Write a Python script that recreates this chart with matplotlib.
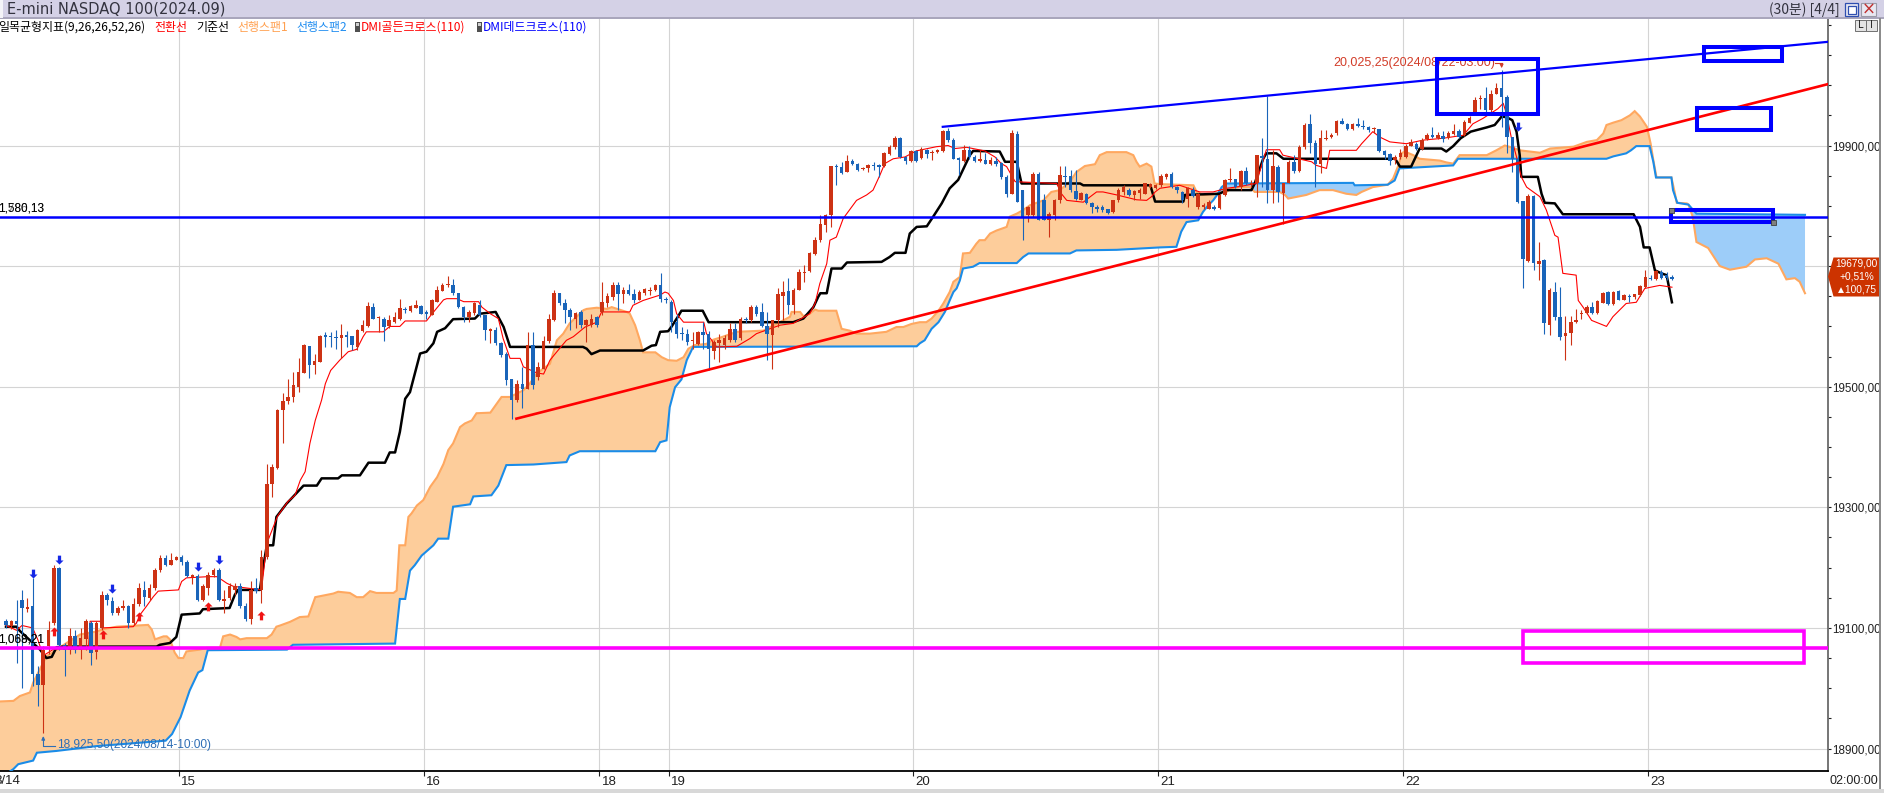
import numpy as np
import matplotlib
matplotlib.use("Agg")
import matplotlib.pyplot as plt
from matplotlib.patches import Rectangle, Polygon
from matplotlib.path import Path
from matplotlib.ticker import FixedLocator, MultipleLocator, FuncFormatter
import matplotlib.transforms as mtrans

plt.rcParams['font.family'] = ['Liberation Sans', 'DejaVu Sans']
KR = ['Noto Sans CJK KR', 'DejaVu Sans']

# ---------------- data (30-minute bars) ----------------
bar_open = [
19111,19103,19111,19147,19132,19136,19023,19006,19070,19108,
19199,19072,19064,19086,19064,19081,19108,19060,19100,19155,
19144,19125,19133,19136,19108,19139,19163,19150,19166,19196,
19216,19205,19213,19217,19210,19185,19186,19147,19166,19188,
19196,19145,19149,19163,19169,19137,19114,19166,19163,19217,
19338,19366,19461,19476,19483,19500,19523,19567,19536,19541,
19585,19584,19582,19580,19585,19584,19566,19592,19600,19632,
19614,19613,19600,19607,19613,19629,19626,19631,19634,19624,
19619,19641,19659,19668,19668,19655,19633,19616,19622,19635,
19619,19593,19594,19572,19555,19512,19478,19505,19497,19569,
19516,19530,19576,19610,19655,19638,19628,19613,19624,19602,
19602,19616,19624,19638,19649,19668,19654,19660,19654,19644,
19655,19659,19660,19668,19646,19641,19607,19589,19588,19576,
19571,19590,19588,19560,19572,19569,19577,19596,19580,19612,
19610,19633,19624,19600,19585,19610,19651,19659,19635,19660,
19688,19692,19720,19743,19768,19784,19866,19865,19856,19874,
19869,19861,19862,19868,19867,19866,19886,19897,19913,19881,
19875,19891,19880,19893,19887,19889,19891,19924,19909,19879,
19875,19892,19881,19875,19876,19870,19875,19871,19848,19820,
19919,19826,19785,19784,19853,19809,19777,19784,19809,19850,
19850,19825,19810,19820,19804,19798,19798,19794,19790,19809,
19823,19826,19818,19821,19820,19831,19830,19834,19847,19853,
19831,19823,19812,19827,19798,19798,19795,19798,19796,19818,
19842,19844,19831,19857,19836,19837,19882,19878,19826,19865,
19821,19838,19873,19858,19897,19935,19904,19870,19910,19914,
19920,19940,19936,19927,19936,19933,19930,19927,19927,19891,
19886,19876,19881,19881,19900,19903,19895,19910,19917,19912,
19915,19912,19919,19924,19917,19938,19956,19977,19978,19959,
19986,19996,19981,19914,19878,19808,19709,19816,19703,19710,
19602,19657,19615,19584,19589,19607,19620,19622,19633,19622,
19639,19657,19637,19658,19644,19651,19648,19652,19665,19681,
19678,19690,19685,19682]
bar_high = [
19114,19113,19147,19163,19150,19183,19037,19070,19111,19205,
19201,19075,19100,19097,19100,19114,19111,19111,19161,19158,
19152,19137,19147,19138,19150,19174,19177,19172,19199,19221,
19221,19224,19219,19221,19212,19190,19190,19172,19193,19199,
19199,19163,19174,19174,19174,19141,19177,19183,19230,19371,
19372,19463,19489,19512,19525,19547,19570,19568,19555,19586,
19591,19591,19594,19604,19593,19584,19595,19611,19641,19638,
19617,19616,19619,19624,19645,19633,19635,19643,19635,19627,
19646,19667,19672,19683,19678,19656,19634,19627,19641,19644,
19619,19598,19599,19574,19558,19512,19511,19533,19591,19591,
19541,19584,19621,19660,19656,19646,19630,19624,19627,19613,
19621,19618,19674,19655,19674,19674,19665,19670,19662,19660,
19663,19665,19671,19688,19649,19643,19621,19599,19596,19591,
19593,19607,19593,19577,19588,19585,19605,19605,19616,19616,
19635,19635,19639,19624,19610,19663,19676,19680,19663,19696,
19701,19723,19748,19784,19787,19866,19870,19873,19884,19878,
19871,19865,19870,19873,19870,19890,19901,19915,19914,19882,
19893,19893,19897,19895,19892,19895,19925,19929,19912,19881,
19901,19899,19884,19892,19887,19881,19881,19873,19851,19925,
19924,19827,19800,19856,19856,19820,19790,19812,19866,19866,
19859,19859,19823,19821,19806,19801,19801,19795,19810,19829,
19834,19830,19826,19830,19838,19838,19836,19852,19855,19856,
19833,19825,19831,19831,19821,19804,19809,19801,19820,19845,
19863,19845,19859,19865,19842,19884,19912,19982,19892,19867,
19838,19876,19884,19901,19937,19953,19909,19925,19925,19920,
19942,19945,19938,19938,19945,19942,19932,19930,19928,19893,
19887,19884,19895,19902,19910,19906,19912,19921,19930,19923,
19924,19924,19936,19927,19942,19949,19981,19984,19997,19992,
20004,20025.25,19984,19914,19884,19808,19820,19818,19740,19712,
19663,19674,19665,19618,19617,19629,19627,19635,19641,19643,
19657,19659,19659,19660,19653,19653,19654,19668,19693,19685,
19693,19693,19690,19685]
bar_low = [
19100,19098,19042,19001,19127,19004,18970,18925.5,19056,19105,
19064,19020,19056,19058,19048,19064,19039,19048,19097,19138,
19122,19122,19130,19100,19105,19136,19136,19147,19163,19193,
19202,19204,19212,19204,19184,19172,19144,19144,19155,19185,
19144,19125,19147,19155,19133,19111,19106,19158,19141,19215,
19317,19364,19406,19472,19474,19491,19522,19514,19521,19541,
19566,19566,19563,19547,19566,19561,19561,19591,19599,19613,
19591,19576,19597,19605,19611,19622,19624,19630,19620,19613,
19619,19641,19659,19666,19652,19630,19608,19608,19619,19616,
19577,19573,19569,19550,19503,19447,19475,19464,19497,19497,
19511,19530,19572,19609,19635,19605,19594,19597,19597,19574,
19599,19599,19619,19632,19643,19627,19638,19652,19638,19643,
19652,19652,19659,19641,19638,19591,19580,19577,19569,19563,
19569,19563,19527,19546,19541,19563,19574,19574,19577,19605,
19607,19618,19599,19544,19530,19599,19610,19621,19621,19660,
19674,19690,19719,19740,19757,19765,19834,19852,19856,19867,
19858,19859,19856,19859,19848,19865,19884,19895,19880,19869,
19873,19873,19878,19880,19876,19887,19890,19906,19877,19851,
19873,19878,19873,19873,19869,19867,19866,19845,19815,19819,
19806,19743,19773,19781,19777,19776,19748,19776,19804,19831,
19823,19809,19809,19803,19788,19790,19790,19786,19788,19806,
19818,19816,19810,19812,19819,19829,19828,19832,19845,19829,
19822,19805,19798,19814,19795,19795,19794,19793,19794,19816,
19840,19829,19827,19834,19831,19815,19831,19804,19804,19806,
19770,19837,19855,19856,19895,19887,19832,19855,19909,19913,
19917,19935,19925,19925,19931,19928,19923,19920,19890,19878,
19867,19870,19878,19880,19899,19892,19892,19909,19912,19910,
19906,19910,19917,19913,19915,19937,19954,19961,19956,19956,
19985,19931,19887,19856,19804,19664,19707,19693,19677,19588,
19585,19610,19577,19544,19569,19605,19613,19621,19620,19621,
19638,19635,19635,19643,19643,19640,19646,19650,19664,19677,
19677,19679,19677,19677]
bar_close = [
19104,19111,19106,19133,19134,19023,19006,19064,19097,19199,
19072,19064,19086,19064,19084,19111,19059,19108,19155,19147,
19125,19133,19136,19108,19139,19166,19152,19166,19196,19216,
19205,19213,19217,19210,19186,19187,19147,19169,19188,19196,
19147,19148,19169,19169,19136,19114,19163,19161,19218,19338,
19367,19462,19476,19483,19502,19524,19569,19536,19543,19584,
19583,19582,19580,19585,19583,19569,19594,19602,19634,19613,
19616,19599,19610,19616,19630,19627,19634,19635,19621,19620,
19643,19660,19668,19671,19655,19633,19616,19624,19638,19619,
19594,19595,19572,19552,19511,19478,19505,19497,19569,19503,
19533,19576,19613,19655,19638,19627,19616,19622,19602,19610,
19613,19603,19640,19650,19668,19654,19660,19654,19644,19657,
19662,19661,19668,19646,19643,19607,19588,19587,19574,19578,
19591,19586,19563,19574,19577,19580,19596,19577,19613,19610,
19633,19621,19600,19588,19610,19654,19657,19635,19661,19690,
19691,19721,19743,19769,19785,19866,19864,19854,19874,19870,
19860,19863,19867,19866,19865,19888,19897,19913,19881,19875,
19891,19875,19895,19886,19888,19892,19924,19909,19878,19876,
19892,19881,19875,19877,19870,19876,19870,19848,19819,19921,
19806,19782,19798,19853,19777,19777,19787,19810,19851,19848,
19826,19812,19821,19805,19798,19795,19793,19788,19809,19826,
19831,19818,19825,19826,19837,19836,19834,19849,19853,19831,
19826,19810,19829,19816,19819,19801,19806,19795,19818,19842,
19844,19831,19857,19837,19838,19884,19880,19826,19866,19823,
19838,19873,19858,19898,19934,19904,19870,19912,19913,19918,
19940,19936,19927,19935,19932,19930,19925,19929,19891,19884,
19875,19881,19887,19900,19906,19895,19909,19917,19914,19917,
19910,19920,19924,19914,19939,19945,19976,19979,19959,19986,
19996,19981,19914,19878,19807,19711,19816,19705,19709,19605,
19660,19615,19582,19589,19607,19611,19622,19632,19622,19642,
19655,19637,19657,19644,19652,19649,19653,19667,19682,19678,
19692,19681,19681,19679]

day_tick_pos = [32.5, 78.5, 111.5, 124.5, 170.5, 216.5, 262.5, 308.5]
day_tick_labels = ['15', '16', '18', '19', '20', '21', '22', '23']
first_day_label = '8/14'
price_ticks = [18900, 19100, 19300, 19500, 19700, 19900]
price_labels_hidden = [19700]   # covered by the current-price box on screen

# Ichimoku lines (bar index, price)
tenkan_idx = [0,1,2,3,5,6,7,9,15.5,15.8,17.7,18,23.9,24.5,25.2,26.4,27.7,28.6,32.4,33,33.9,38,39.6,40.5,41.5,42.7,47.1,48,
    49,51,53,54.3,55.3,56.2,57.1,58.1,59.3,60,61,62.7,64.3,65.9,67.1,67.7,70.9,72.1,74,75,79,79.6,80.9,82.2,82.8,84.7,86,88.8,
    89.4,91,92.5,93.4,94.4,94.7,96.6,97.2,99.7,101,102.2,103.5,105.3,106.6,108.8,111,111.9,117.2,117.8,119.7,122.9,123.8,
    124.4,125.4,126,127.3,131.1,131.6,132.6,133.5,137.3,139.8,141,142.9,145.4,147.9,151,152,152.9,154.2,154.8,156,157.3,
    159.8,161.7,162.9,164.2,165.1,166.7,168.9,171,174.8,177,178.3,180.5,183.9,185.8,187,188,189.6,197.4,198.3,199.3,202.4,
    203.7,204.9,206.1,208.7,212.4,214.3,215.2,215.9,216.8,220.5,224.3,226.8,229.3,231.8,234.9,236.2,236.8,239.3,239.9,
    245.3,246.2,248.1,248.7,253.7,254.7,256.8,258.1,260,263.1,266.3,270,273.8,275.6,277.5,280.3,281.3,281.9,282.8,283.8,
    284.7,285.7,288.2,289.4,291,291.6,292.5,295,295.4,296.3,297.9,300.7,301.9,304.4,306.3,307.9,310.7,313]
tenkan_val = [19104,19100,19096,19104,19100,19080,19054,19065,19065,19111,19111,19100,19102,19108,19122,19136,19152,19161,
    19163,19177,19183,19185,19185,19180,19174,19169,19164,19163,
    19240,19285,19310,19320,19345,19359,19406,19444,19478,19505,19527,19544,19558,19562,19583,19591,19591,19600,19600,
    19609,19609,19616,19630,19644,19646,19646,19641,19641,
    19632,19621,19613,19580,19555,19547,19547,19533,19523,19521,19544,19558,19577,19583,19599,19607,19624,19624,19635,
    19643,19652,19657,
    19655,19643,19621,19607,19607,19588,19577,19566,19567,19580,19588,19594,19602,19605,19621,19638,19671,19704,19743,
    19748,19779,
    19809,19818,19826,19851,19870,19878,19881,19891,19898,19900,19895,19897,19891,19881,19870,19865,19840,19837,19820,
    19809,19806,
    19815,19823,19823,19818,19810,19809,19815,19823,19829,19834,19823,19823,19829,19832,19837,19876,19893,19893,19884,
    19873,19867,19862,19892,19892,19903,19923,19914,19906,19903,19909,19912,19917,19936,19945,19961,19970,19953,19914,
    19881,
    19848,19831,19815,19793,19751,19748,19688,19685,19643,19632,19610,19600,19616,19638,19640,19663,19668,19665]

kijun_idx = [0,2,2.6,6.4,7.6,8.6,9.5,10.8,28.3,28.9,30.8,32,33,36.4,37,42,43,43.6,47.7,48.3,49,50.2,50.8,52.7,53.35,
    55.9,58.4,59.3,62.4,63.1,66.5,68.1,71.2,72.1,73.1,74,75,75.9,77.8,79,80.3,81,82.5,84,88.1,89,92,93.5,94.7,108.4,
    109.1,110,111.6,119.7,121.3,122.1,122.9,124.4,125,126.3,126.9,130.9,132,147.9,149.8,151.7,152.6,153,154.2,155.1,
    157,158,164.5,166,167,169,169.8,171.1,173,174.2,175.8,177.3,178.9,180.5,181.1,181.7,186.7,187.7,189.9,190.8,201.8,
    202.4,215,215.9,221.2,221.5,228,229.3,234,234.6,236.2,236.8,238.7,240,261,261.9,264,265.6,269.7,270.6,271.9,273.3,
    275.2,278.2,279.7,281,281.9,283,283.8,284.4,284.7,287.8,288.5,289.1,291,292.5,305.8,307,307.7,308.8,309.8,311,312,313]
kijun_val = [19102,19102,19095,19064,19050,19052,19068,19069,19069,19072,19075,19085,19122,19124,19131,19133,19155,19163,
    19163,19200,19237,19237,19284,19306,19312,
    19336,19336,19348,19348,19353,19353,19374,19374,19391,19391,19425,19480,19491,19555,19558,19572,19591,19597,19612,
    19613,19621,19624,19599,19566,19566,
    19563,19554,19560,19560,19568,19569,19591,19592,19599,19617,19626,19626,19607,19607,19613,19632,19649,19655,19655,
    19696,
    19696,19706,19707,19715,19722,19722,19754,19765,19766,19782,19804,19829,19843,19873,19884,19891,19890,19873,19873,
    19837,19837,
    19834,19834,19807,19807,19818,19820,19826,19826,19837,19878,19887,19887,19878,19878,19865,19865,19895,19895,19890,
    19899,19912,
    19923,19930,19934,19948,19947,19942,19923,19884,19848,19848,19820,19805,19804,19786,19786,19765,19731,19731,19693,
    19688,19685,19640]

span1_idx = [-1.2,1.4,2.6,4.5,5.1,7.6,9.5,11.4,13.9,17,18.3,20.8,26.7,27.4,28,29.6,30.2,30.8,31.7,32.4,33.3,33.9,
    36.4,37.7,40.2,40.8,42.1,43.3,44,45.2,49,49.9,50.8,51.5,53.35,55.2,56.8,58.1,61.5,62.4,64.6,65.9,67.1,68.4,69.6,
    72.8,73.4,73.9,75,75.6,76.2,77.2,78.4,79.7,81,82.2,83.1,84,85.3,86.2,87.5,88.4,91,92.2,93.1,94.7,97.2,98.4,99.7,
    102.2,103.5,104.7,105.9,107.2,108.5,109.1,111,112.9,113.8,116.6,117.2,118.2,119.1,119.7,122,123.2,124.4,126,127.3,
    128.2,129.4,131.6,132.9,134.4,137.3,142.3,145.4,147.3,147.6,149.2,149.8,151,152,152.6,156,157,158.5,159.8,162.3,
    165.4,167.3,168.6,170.1,171.7,172.9,173.9,175.2,176.1,177.3,178,179.2,179.8,181.1,182.3,182.9,183.9,184.9,186.1,
    188,188.6,189.9,191.1,192.4,194.9,196.4,198,199.9,201.1,202.7,204.6,205.5,206.8,210.5,211.8,212.4,213,214.3,215.2,
    215.8,216.8,223.1,223.7,224.9,227.7,228.4,229.3,230.2,231.8,233.7,234.6,239.3,240.3,240.9,244.3,246.8,249.3,251.8,
    253.7,254.7,256.8,259.6,260.6,261.6,262.2,262.8,264.4,265.6,269.4,270.6,271.9,273.1,278.2,280,281.6,282.8,284.4,
    288.2,290.1,294.5,297,298.9,300.1,300.7,302,303.5,305.1,306,307,308.3,309,309.5,310.1,312.9,313.5,313.9,315.8,
    316.1,316.9,317.6,319.8,322,323.9,327,328.6,330.8,333,334.5,336.1,337,338]
span1_val = [18978,18979,18987,18993,19009,19053,19064,19075,19089,19094,19098,19102,19105,19097,19081,19086,19086,
    19081,19059,19050,19050,19061,
    19064,19067,19067,19086,19089,19085,19081,19083,19083,19089,19102,19104,19110,19118,19119,19151,19157,19160,19158,
    19151,19151,19161,19158,
    19158,19162,19237,19237,19284,19290,19303,19312,19334,19350,19372,19395,19406,19433,19439,19444,19456,19457,19472,
    19483,19483,19494,19505,19522,
    19538,19577,19588,19605,19616,19627,19629,19631,19629,19632,19624,19621,19602,19577,19557,19557,19549,19544,19543,
    19549,
    19563,19569,19571,19578,19582,19591,19593,19607,19616,19624,19624,19617,19621,19628,19626,19626,19596,19593,19588,
    19588,
    19591,19599,19599,19604,19607,19607,19613,19626,19638,19657,19674,19682,19721,19722,19737,19743,19743,19754,19759,
    19765,19782,19787,19793,19801,19809,19823,19826,19840,19856,19866,19869,19884,19889,19889,19884,19873,19865,19870,
    19865,
    19837,19836,19834,19823,19818,19820,19823,19823,19829,19831,19831,19823,19823,19818,19812,19818,19826,19826,19820,
    19818,19823,19831,19835,19845,19867,19887,19890,19884,19878,19875,19872,19870,19884,19884,19892,19900,19897,19892,
    19888,19895,19898,19906,19909,19920,19934,19938,19942,19950,19957,19948,19931,19903,19876,19847,19847,19823,19805,
    19804,
    19802,19782,19740,19730,19700,19694,19699,19711,19713,19704,19678,19680,19674,19655]

span2_idx = [-1.2,1.4,2.3,5.1,5.8,9.5,17,30,31.2,32.8,34.5,36.1,36.9,37.9,52.8,53.9,73.1,73.4,74,75,75.9,76.8,78.1,
    80.3,81.2,83.1,84,87.2,87.8,91.2,92.5,94,99.1,105.3,105.9,107.8,122,122.9,124.1,124.7,125.7,126.9,127.9,128.5,129.1,
    171.1,171.7,172.6,173.9,175.2,176.4,177.3,178,178.6,179.2,179.8,181.7,182.9,189.9,191.1,192.1,199.9,201.1,208.7,
    216.8,219.9,220.8,221.8,224,224.9,225.9,226.8,227.7,228.4,229.3,253.1,253.4,259.6,260.9,261.8,271.9,272.8,300.7,
    302,304.4,305.3,306.3,308.8,309.5,310,312.9,313.2,314,316.1,317.6,338]
span2_val = [18850,18866,18874,18880,18893,18896,18904,18913,18924,18952,18996,19026,19030,19063,19064,19072,19074,
    19099,19148,19148,19195,19204,19220,
    19237,19248,19248,19301,19305,19318,19320,19336,19370,19371,19375,19386,19393,19393,19408,19411,19466,19499,19512,
    19544,19555,19566,
    19567,19572,19577,19596,19607,19624,19643,19657,19663,19676,19696,19699,19705,19705,19715,19721,19721,19726,19727,
    19731,19732,19757,19773,19776,19790,19801,19809,19820,19831,19837,19838,19834,19835,19842,19862,19867,19878,19878,
    19882,19887,19892,19899,19899,19873,19847,19847,19826,19805,19802,19787,19785]

cloud_bounds = [-1.2, 227.7, 259.6, 316.1, 338]
cloud_bullish = [True, False, True, False]

# drawings on the chart
hline_blue = 19781.9
hline_magenta = 19067.3
trend_red_idx = [95.9, 342.4]
trend_red_val = [19447, 20002]
trend_blue_idx = [176.0, 342.4]
trend_blue_val = [19931, 20072]
blue_boxes = [(268.95, 287.8, 19952.6, 20043.4),
              (319.0, 333.7, 20040.7, 20063.5),
              (317.8, 331.7, 19926, 19962),
              (312.8, 331.9, 19772.5, 19793)]
magenta_box = (285.0, 337.85, 19042.5, 19095.6)
dmi_gold_idx = [9, 18.2, 25, 38, 48]
dmi_gold_val = [19095, 19090, 19119, 19137, 19122]
dmi_dead_idx = [5.1, 10, 20, 36.1, 40.1, 284]
dmi_dead_val = [19190, 19213, 19165, 19201, 19213, 19930]
hi_idx, hi_val = 281, 20025.25
lo_idx, lo_val = 7, 18925.5
last_price, chg_pct, chg_abs = 19679.00, 0.51, 100.75


def kfmt(v, digits=2):
    return f'{v:.{digits}f}'.replace('.', ',')


# ---------------- figure ----------------
W, H = 1884, 793
fig = plt.figure(figsize=(W / 100, H / 100), dpi=100)
fig.patch.set_facecolor('white')

def fx(x):
    return x / W

def fy(y):
    return 1 - y / H

ax = fig.add_axes([0, 22 / H, 1828 / W, (771 - 17) / H])
ax.set_facecolor('white')
ax.set_xlim(-1.127, 342.32)
ax.set_ylim(18862.7, 20113.1)

GRID = '#D4D4D4'
for p in price_ticks:
    ax.axhline(p, color=GRID, lw=0.8, zorder=1)
for d in day_tick_pos:
    ax.axvline(d, color=GRID, lw=0.8, zorder=1)

# cloud
s1x, s1y = np.array(span1_idx), np.array(span1_val)
s2x, s2y = np.array(span2_idx), np.array(span2_val)
for a, b, bull in zip(cloud_bounds[:-1], cloud_bounds[1:], cloud_bullish):
    m1 = (s1x >= a - 1e-6) & (s1x <= b + 1e-6)
    m2 = (s2x >= a - 1e-6) & (s2x <= b + 1e-6)
    xs = np.concatenate([s1x[m1], s2x[m2][::-1]])
    ys = np.concatenate([s1y[m1], s2y[m2][::-1]])
    ax.fill(xs, ys, color='#FDCD9B' if bull else '#9DCDF9', lw=0, zorder=2)
ax.plot(s1x, s1y, color='#FFA860', lw=1.5, zorder=3, solid_joinstyle='miter')
ax.plot(s2x, s2y, color='#1A8CE8', lw=1.5, zorder=3, solid_joinstyle='miter')

ax.plot(kijun_idx, kijun_val, color='black', lw=1.8, zorder=4)
ax.plot(tenkan_idx, tenkan_val, color='#FF0000', lw=0.8, zorder=4)

# candles
o = np.array(bar_open, float)
h = np.array(bar_high, float)
l = np.array(bar_low, float)
c = np.array(bar_close, float)
idx = np.arange(len(c))
UP, DN = '#CD3214', '#1964B9'
cols = np.where(c >= o, UP, DN)
ax.vlines(idx, l, h, colors=cols, lw=0.8, zorder=5)
body_lo = np.minimum(o, c)
body_h = np.maximum(np.abs(c - o), 2.0)
ax.bar(idx, body_h, bottom=body_lo, width=0.66, color=cols, edgecolor='none', lw=0, zorder=6)

# drawings
ax.axhline(hline_blue, color='#0000FF', lw=1.8, zorder=8)
ax.axhline(hline_magenta, color='#FF00FF', lw=2.6, zorder=8)
ax.plot(trend_red_idx, trend_red_val, color='#FF0000', lw=1.9, zorder=8)
ax.plot(trend_blue_idx, trend_blue_val, color='#0000FF', lw=1.6, zorder=8)
for (x0, x1, y0, y1) in blue_boxes:
    ax.add_patch(Rectangle((x0, y0), x1 - x0, y1 - y0, fill=False, ec='#0000FF', lw=2.9, zorder=9))
bx = blue_boxes[3]
ax.plot([bx[0], bx[1]], [bx[3], bx[2]], ls='none', marker='s', ms=3.6, mfc='#808080', mec='#404040', mew=0.6, zorder=10)
mx0, mx1, my0, my1 = magenta_box
ax.add_patch(Rectangle((mx0, my0), mx1 - mx0, my1 - my0, fill=False, ec='#FF00FF', lw=2.6, zorder=9))

up_arrow = Path([(0, 0.5), (0.5, 0), (0.2, 0), (0.2, -0.6), (-0.2, -0.6), (-0.2, 0), (-0.5, 0), (0, 0.5)],
                [Path.MOVETO] + [Path.LINETO] * 6 + [Path.CLOSEPOLY])
dn_arrow = Path([(0, -0.5), (0.5, 0), (0.2, 0), (0.2, 0.6), (-0.2, 0.6), (-0.2, 0), (-0.5, 0), (0, -0.5)],
                [Path.MOVETO] + [Path.LINETO] * 6 + [Path.CLOSEPOLY])
ax.plot(dmi_gold_idx, dmi_gold_val, ls='none', marker=up_arrow, ms=7, mfc='#F01414', mec='none', zorder=10)
ax.plot(dmi_dead_idx, dmi_dead_val, ls='none', marker=dn_arrow, ms=7, mfc='#1428E6', mec='none', zorder=10)

# high / low annotations
hi_text = f'{int(hi_val)//1000},{hi_val % 1000:06.2f}'.replace('.', ',') + '(2024/08/22-03:00)'
lo_text = f'{int(lo_val)//1000},{lo_val % 1000:06.2f}'.replace('.', ',') + '(2024/08/14-10:00)'
ax.text(hi_idx - 1.3, hi_val + 12, hi_text, color='#D23C28', fontsize=9,
        ha='right', va='center', zorder=7)
ax.plot([hi_idx - 1.2, hi_idx], [hi_val + 12, hi_val + 12], color='#D23C28', lw=0.8, zorder=7)
ax.annotate('', xy=(hi_idx, hi_val + 3), xytext=(hi_idx, hi_val + 12),
            arrowprops=dict(arrowstyle='-|>', color='#D23C28', lw=0.8, mutation_scale=5), zorder=7)
ax.text(lo_idx + 2.6, lo_val - 20, lo_text, color='#2F6EB5', fontsize=8.6,
        ha='left', va='center', zorder=7)
ax.plot([lo_idx, lo_idx, lo_idx + 2.2], [lo_val - 6, lo_val - 22, lo_val - 22], color='#2F6EB5', lw=0.8, zorder=7)
ax.annotate('', xy=(lo_idx, lo_val - 5), xytext=(lo_idx, lo_val - 14),
            arrowprops=dict(arrowstyle='-|>', color='#2F6EB5', lw=0.8, mutation_scale=5), zorder=7)

# left labels of horizontal lines (overprinted as on screen)
ax.text(-1.5, hline_blue + 13, '1,580,13', fontsize=8.5, color='black', ha='left', va='center', zorder=9, clip_on=True)
ax.text(-1.5, hline_blue + 13, '1,786,13', fontsize=8.5, color='black', ha='left', va='center', zorder=9,
        clip_on=True, alpha=0.55)
ax.text(-1.5, hline_magenta + 13, '1,068,21', fontsize=8.5, color='black', ha='left', va='center', zorder=9, clip_on=True)
ax.text(-1.5, hline_magenta + 13, '1,089,21', fontsize=8.5, color='black', ha='left', va='center', zorder=9,
        clip_on=True, alpha=0.55)

# axes styling
for s in ['top', 'left']:
    ax.spines[s].set_visible(False)
ax.spines['bottom'].set_color('black')
ax.spines['bottom'].set_linewidth(1.3)
ax.spines['right'].set_color('#6A6A6A')
ax.spines['right'].set_linewidth(1.3)
ax.yaxis.tick_right()
ax.yaxis.set_major_locator(FixedLocator(price_ticks))
ax.yaxis.set_major_formatter(FuncFormatter(lambda v, pos: '' if round(v) in price_labels_hidden else kfmt(v)))
ax.yaxis.set_minor_locator(MultipleLocator(50))
ax.tick_params(axis='y', which='major', length=2.4, width=0.8, pad=0.8, labelsize=8.4, colors='#202020')
ax.tick_params(axis='y', which='minor', length=1.8, width=0.8, colors='#202020')
ax.set_xticks(day_tick_pos)
ax.set_xticklabels(day_tick_labels)
ax.tick_params(axis='x', length=3.6, width=0.8, pad=0.3, labelsize=9.5, colors='#202020')
off = mtrans.ScaledTranslation(1.5 / 72, 0, fig.dpi_scale_trans)
for lab in ax.get_xticklabels():
    lab.set_ha('left')
    lab.set_transform(lab.get_transform() + off)
fig.text(fx(-6), fy(781), first_day_label, fontsize=9.5, color='#202020', ha='left', va='center')
fig.text(fx(1878), fy(781), '02:00:00', fontsize=9, color='#202020', ha='right', va='center')

# ---------------- window chrome ----------------
def add_rect(x0, y0, x1, y1, **kw):
    fig.add_artist(Rectangle((fx(x0), fy(y1)), (x1 - x0) / W, (y1 - y0) / H, transform=fig.transFigure, **kw))

def add_poly(pts, **kw):
    fig.add_artist(Polygon([(fx(x), fy(y)) for x, y in pts], closed=True, transform=fig.transFigure, **kw))

add_rect(0, 0, 1884, 18, fc='#D4D1E6', ec='none')
add_rect(0, 17.5, 1884, 18.5, fc='#A9A6BC', ec='none')
add_rect(0, 0, 3, 18, fc='#F4F4F8', ec='none')
fig.text(fx(7), fy(9.5), 'E-mini NASDAQ 100(2024.09)', fontsize=10.5, color='#33333F',
         family='DejaVu Sans', ha='left', va='center')
fig.text(fx(1840), fy(9.5), '(30분) [4/4]', fontsize=10, color='#33333F', family=KR, ha='right', va='center')
add_rect(1845, 3, 1858, 16, fc='#E8E8F2', ec='#2F4FB0', lw=0.9)
add_rect(1847.5, 6.5, 1855.5, 13.5, fc='white', ec='#2F4FB0', lw=0.9)
add_rect(1861, 3, 1876, 16, fc='#E8E8F2', ec='#9A9AA8', lw=0.8)
fig.text(fx(1868.5), fy(9.5), '×', fontsize=12, color='#C03030', family='DejaVu Sans', ha='center', va='center')
add_rect(1855, 20, 1866, 31, fc='#E4E4E4', ec='#707070', lw=0.7)
add_rect(1866, 20, 1877, 31, fc='#E4E4E4', ec='#707070', lw=0.7)
fig.text(fx(1860.5), fy(25.5), 'L', fontsize=7, color='#202020', family='DejaVu Sans', ha='center', va='center')
fig.text(fx(1871.5), fy(25.5), 'I', fontsize=7, color='#202020', family='DejaVu Sans', ha='center', va='center')
add_rect(1879, 18, 1880.5, 793, fc='#8C8C8C', ec='none')
add_rect(0, 789, 1884, 793, fc='#D8D8D8', ec='none')

# legend row
leg_y = fy(27)
fig.text(fx(-2), leg_y, '일목균형지표(9,26,26,52,26)', fontsize=8.6, color='black', family=KR, ha='left', va='center')
fig.text(fx(154), leg_y, '전환선', fontsize=8.6, color='#FF0000', family=KR, ha='left', va='center')
fig.text(fx(196), leg_y, '기준선', fontsize=8.6, color='black', family=KR, ha='left', va='center')
fig.text(fx(237), leg_y, '선행스팬1', fontsize=8.6, color='#FFA050', family=KR, ha='left', va='center')
fig.text(fx(296), leg_y, '선행스팬2', fontsize=8.6, color='#1E8CF0', family=KR, ha='left', va='center')
add_rect(355, 22, 359.5, 32, fc='#505050', ec='none')
add_rect(356, 23, 358.5, 26, fc='#D0D0D0', ec='none')
fig.text(fx(361), leg_y, 'DMI골든크로스(110)', fontsize=8.6, color='#FF0000', family=KR, ha='left', va='center')
add_rect(477, 22, 481.5, 32, fc='#505050', ec='none')
add_rect(478, 23, 480.5, 26, fc='#D0D0D0', ec='none')
fig.text(fx(483), leg_y, 'DMI데드크로스(110)', fontsize=8.6, color='#0000FF', family=KR, ha='left', va='center')

# current price box
add_poly([(1828, 276.5), (1833.5, 257.5), (1879, 257.5), (1879, 296.5), (1833.5, 296.5)], fc='#CC3300', ec='none')
fig.text(fx(1856.5), fy(264), kfmt(last_price), fontsize=7.3, color='white', ha='center', va='center')
fig.text(fx(1856.5), fy(276.8), '+' + kfmt(chg_pct) + '%', fontsize=7.3, color='white', ha='center', va='center')
fig.text(fx(1856.5), fy(289.6), '▲' + kfmt(chg_abs), fontsize=7.3, color='white', ha='center', va='center')

fig.savefig('out.png', dpi=100, facecolor='white')
